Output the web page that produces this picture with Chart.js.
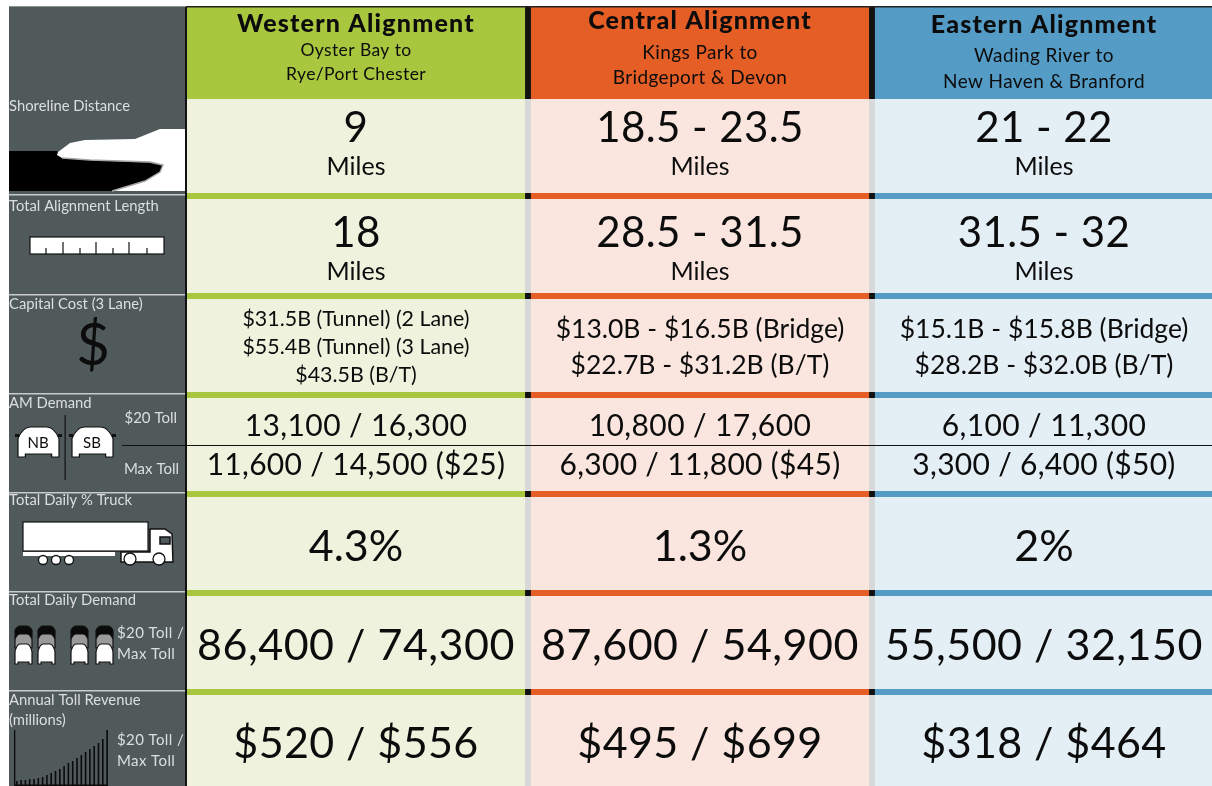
<!DOCTYPE html>
<html>
<head>
<meta charset="utf-8">
<script src="https://cdn.jsdelivr.net/npm/chart.js@4"></script>
<style>
  html, body { margin: 0; padding: 0; background: white; overflow: hidden; width: 1212px; height: 786px; }
  #wrap { width: 1216px; height: 786px; }
</style>
</head>
<body>
<div id="wrap"><canvas id="table_chart"></canvas></div>
<script>
const categories = ['Western Alignment', 'Central Alignment', 'Eastern Alignment'];
const fromPlace = ['Oyster Bay to', 'Kings Park to', 'Wading River to'];
const toPlace = ['Rye/Port Chester', 'Bridgeport & Devon', 'New Haven & Branford'];
const measures = ['Shoreline Distance', 'Total Alignment Length', 'Capital Cost (3 Lane)', 'AM Demand', 'Total Daily % Truck', 'Total Daily Demand', 'Annual Toll Revenue'];
const shoreline = ['9', '18.5 - 23.5', '21 - 22'];
const alignmentLength = ['18', '28.5 - 31.5', '31.5 - 32'];
const capitalCost = [
  ['$31.5B (Tunnel) (2 Lane)', '$55.4B (Tunnel) (3 Lane)', '$43.5B (B/T)'],
  ['$13.0B - $16.5B (Bridge)', '$22.7B - $31.2B (B/T)'],
  ['$15.1B - $15.8B (Bridge)', '$28.2B - $32.0B (B/T)']
];
const amDemand20 = ['13,100 / 16,300', '10,800 / 17,600', '6,100 / 11,300'];
const amDemandMax = ['11,600 / 14,500 ($25)', '6,300 / 11,800 ($45)', '3,300 / 6,400 ($50)'];
const truckShare = ['4.3%', '1.3%', '2%'];
const dailyDemand = ['86,400 / 74,300', '87,600 / 54,900', '55,500 / 32,150'];
const tollRevenue = ['$520 / $556', '$495 / $699', '$318 / $464'];
// heights of the rows in the picture, header first, then cell + rule for each measure
const rowSpans = [92, 94, 6, 94, 6, 93, 6, 93, 6, 93, 6, 93, 6, 91];
const revenueRamp = [5, 6, 6, 7, 7, 8, 9, 11, 13, 15, 17, 20, 23, 25, 28, 31, 34, 37, 40, 43, 47, 56];

const strong = ['#a9c63f', '#e55e26', '#549cc6'];
const tint = ['#eff3de', '#fae6df', '#e3eef5'];
const FONT = 'Lato';

const datasets = rowSpans.map((span, i) => ({
  label: 'row ' + i,
  data: categories.map(() => span),
  backgroundColor: (i === 0 || i % 2 === 0) ? strong : tint,
  stack: 'table',
  barPercentage: 1,
  categoryPercentage: 0.983
}));

function put(ctx, text, x, y, size, opts) {
  opts = opts || {};
  ctx.font = (opts.weight || '400') + ' ' + size + 'px ' + FONT;
  ctx.letterSpacing = (opts.spacing || 0) + 'px';
  ctx.textAlign = opts.align || 'center';
  ctx.textBaseline = 'middle';
  ctx.fillStyle = opts.color || '#0c0c0c';
  ctx.fillText(text, x, y);
  ctx.letterSpacing = '0px';
}

function poly(ctx, pts, fill, stroke) {
  ctx.beginPath();
  pts.forEach((p, i) => i ? ctx.lineTo(p[0], p[1]) : ctx.moveTo(p[0], p[1]));
  ctx.closePath();
  if (fill) { ctx.fillStyle = fill; ctx.fill(); }
  if (stroke) { ctx.strokeStyle = stroke; ctx.lineWidth = 1.5; ctx.stroke(); }
}

function car(ctx, x, y, w, h, fill) {
  ctx.beginPath();
  ctx.moveTo(x, y + h);
  ctx.lineTo(x, y + h * 0.38);
  ctx.quadraticCurveTo(x + w * 0.12, y, x + w * 0.3, y);
  ctx.lineTo(x + w * 0.7, y);
  ctx.quadraticCurveTo(x + w * 0.88, y, x + w, y + h * 0.38);
  ctx.lineTo(x + w, y + h);
  ctx.lineTo(x + w * 0.82, y + h);
  ctx.lineTo(x + w * 0.82, y + h * 0.9);
  ctx.lineTo(x + w * 0.18, y + h * 0.9);
  ctx.lineTo(x + w * 0.18, y + h);
  ctx.closePath();
  ctx.fillStyle = fill;
  ctx.fill();
  ctx.strokeStyle = '#111';
  ctx.lineWidth = 1.2;
  ctx.stroke();
}

function wheel(ctx, x, y, r) {
  ctx.beginPath();
  ctx.arc(x, y, r, 0, Math.PI * 2);
  ctx.fillStyle = 'white';
  ctx.fill();
  ctx.strokeStyle = '#111';
  ctx.lineWidth = 1.3;
  ctx.stroke();
}

const tablePlugin = {
  id: 'tablePlugin',
  beforeDatasetsDraw(chart) {
    const ctx = chart.ctx, xs = chart.scales.x, ys = chart.scales.y;
    // gutters between the alignments, black over header and rules, grey over the cells
    ctx.save();
    ctx.fillStyle = '#d6d9d7';
    ctx.fillRect(xs.left, ys.getPixelForValue(0), xs.right - xs.left, ys.bottom - ys.top);
    let top = 0;
    rowSpans.forEach((span, i) => {
      if (i % 2 === 0) {
        ctx.fillStyle = '#111';
        ctx.fillRect(xs.left, ys.getPixelForValue(top), xs.right - xs.left, ys.getPixelForValue(top + span) - ys.getPixelForValue(top));
      }
      top += span;
    });
    ctx.restore();
  },
  afterDatasetsDraw(chart) {
    const ctx = chart.ctx, xs = chart.scales.x, ys = chart.scales.y;
    const yAt = v => ys.getPixelForValue(v);
    const centers = categories.map((c, i) => xs.getPixelForValue(i));
    // cumulative row tops
    const tops = [];
    rowSpans.reduce((a, s, i) => (tops[i] = a, a + s), 0);
    const rowTop = r => yAt(tops[2 * r + 1]);

    ctx.save();
    // left panel
    const panelL = 9, panelR = xs.left + 2;
    const pTop = yAt(0), pBot = yAt(ys.max);
    ctx.fillStyle = '#505a5a';
    ctx.fillRect(panelL, pTop, panelR - panelL, pBot - pTop);
    ctx.fillStyle = '#8d9393';
    ctx.fillRect(panelL, pTop - 1, panelR - panelL, 1);
    ctx.fillStyle = '#111';
    ctx.fillRect(panelR - 1, pTop, 2, pBot - pTop);
    // dark edge along the top of the headers
    ctx.fillStyle = '#222';
    ctx.fillRect(panelR, pTop - 1, 1212 - panelR, 1.5);

    const labelColor = '#dcdfdf';
    const labelShift = [7, 7, 5, 5, 3, 4, 5];
    measures.forEach((m, r) => {
      if (r > 0) {
        ctx.fillStyle = '#c9cccc';
        ctx.fillRect(panelL, rowTop(r) - 5, panelR - panelL - 1, 1.5);
      }
      put(ctx, m, panelL, rowTop(r) + labelShift[r], 14.8, { align: 'left', color: labelColor });
    });
    put(ctx, '(millions)', panelL, rowTop(6) + 25, 14.8, { align: 'left', color: labelColor });

    // shoreline icon
    poly(ctx, [[panelL, 151], [57, 151], [62, 158], [90, 160], [150, 163], [163, 166], [160, 172], [145, 181], [112, 191], [panelL, 191]], '#000');
    poly(ctx, [[185, 129], [160, 129], [150, 133], [135, 139], [85, 140], [70, 143], [58, 152], [57, 155], [62, 158], [90, 160], [150, 162], [163, 165], [160, 172], [145, 181], [112, 191], [185, 191]], 'white');
    ctx.beginPath();
    [[62, 158], [90, 160], [150, 162], [163, 165], [160, 172], [145, 181], [112, 191]].forEach((p, i) => i ? ctx.lineTo(p[0], p[1]) : ctx.moveTo(p[0], p[1]));
    ctx.strokeStyle = '#a5a5a5';
    ctx.lineWidth = 1.4;
    ctx.stroke();

    // ruler icon
    ctx.fillStyle = 'white';
    ctx.fillRect(30, 237, 134, 17);
    ctx.strokeStyle = '#111';
    ctx.lineWidth = 1.2;
    ctx.strokeRect(30, 237, 134, 17);
    [46, 63, 80, 96, 113, 129, 147].forEach((tx, i) => {
      ctx.beginPath();
      ctx.moveTo(tx, i % 2 ? 242 : 248);
      ctx.lineTo(tx, 254);
      ctx.stroke();
    });

    // dollar icon
    put(ctx, '$', 93, 346, 58);

    // AM demand icon
    car(ctx, 18, 427, 41, 30, 'white');
    car(ctx, 72, 427, 41, 30, 'white');
    ctx.fillStyle = '#111';
    ctx.fillRect(15, 434, 4, 3); ctx.fillRect(58, 434, 4, 3); ctx.fillRect(69, 434, 4, 3); ctx.fillRect(112, 434, 4, 3);
    put(ctx, 'NB', 38, 443, 15);
    put(ctx, 'SB', 92, 443, 15);
    ctx.fillStyle = '#111';
    ctx.fillRect(64.5, 415, 1.2, 65);
    put(ctx, '$20 Toll', 177, 418, 15, { align: 'right', color: labelColor });
    put(ctx, 'Max Toll', 179, 469, 15, { align: 'right', color: labelColor });

    // truck icon
    ctx.fillStyle = 'white';
    ctx.fillRect(23, 522, 125, 29);
    ctx.strokeStyle = '#111';
    ctx.lineWidth = 1.2;
    ctx.strokeRect(23, 522, 125, 29);
    ctx.fillStyle = 'white';
    ctx.fillRect(23, 552, 92, 4);
    poly(ctx, [[150, 529], [165, 529], [172, 534], [173, 562], [121, 562], [121, 552], [150, 552]], 'white', '#111');
    ctx.fillStyle = '#505a5a';
    ctx.fillRect(160, 537, 10, 7);
    ctx.strokeRect(160, 537, 10, 7);
    [43, 56, 69].forEach(wx => wheel(ctx, wx, 560, 4.5));
    [130, 159].forEach(wx => wheel(ctx, wx, 559, 6));

    // daily demand icon
    [15, 38, 71, 96].forEach(cx => {
      car(ctx, cx, 626, 17, 12, '#0a0a0a');
      car(ctx, cx, 634, 17, 14, '#9a9a9a');
      car(ctx, cx, 644, 17, 20, 'white');
    });
    put(ctx, '$20 Toll /', 117, 633, 15, { align: 'left', color: labelColor, spacing: 0.4 });
    put(ctx, 'Max Toll', 117, 654, 15, { align: 'left', color: labelColor, spacing: 0.4 });

    // revenue ramp icon
    ctx.fillStyle = '#0a0a0a';
    ctx.fillRect(14, 730, 1.3, 56);
    revenueRamp.forEach((h, i) => ctx.fillRect(16 + i * 4.3, 786 - h, 1.6, h));
    ctx.fillRect(14, 784.5, 94, 1.5);
    put(ctx, '$20 Toll /', 117, 740, 15, { align: 'left', color: labelColor, spacing: 0.4 });
    put(ctx, 'Max Toll', 117, 761, 15, { align: 'left', color: labelColor, spacing: 0.4 });

    // black rule through AM demand
    ctx.fillStyle = '#111';
    ctx.fillRect(122, 445, 1090, 1);

    // headers and cells
    const titleY = [24, 21, 25];
    const fromY = [50, 53, 56];
    const toY = [74, 78, 82];
    const subSize = [17.5, 19, 19];
    centers.forEach((cx, c) => {
      put(ctx, categories[c], cx, titleY[c], 25, { weight: '900', spacing: 1.2 });
      put(ctx, fromPlace[c], cx, fromY[c], subSize[c], { spacing: 0.4 });
      put(ctx, toPlace[c], cx, toY[c], subSize[c], { spacing: 0.4 });

      put(ctx, shoreline[c], cx, 128, 42, { spacing: 0.4 });
      put(ctx, 'Miles', cx, 167, 25);
      put(ctx, alignmentLength[c], cx, 233, 42, { spacing: 0.4 });
      put(ctx, 'Miles', cx, 272, 25);

      const lines = capitalCost[c];
      const step = lines.length === 3 ? 28 : 36;
      const y0 = lines.length === 3 ? 319 : 329;
      lines.forEach((t, l) => put(ctx, t, cx, y0 + l * step, lines.length === 3 ? 21.4 : 26.5));

      put(ctx, amDemand20[c], cx, 426, 30, { spacing: 0.4 });
      put(ctx, amDemandMax[c], cx, 465, 30, { spacing: 0.3 });
      put(ctx, truckShare[c], cx, 547, 43);
      put(ctx, dailyDemand[c], cx, 646, 43, { spacing: 0.5 });
      put(ctx, tollRevenue[c], cx, 744, 43, { spacing: 0.4 });
    });
    ctx.restore();
  }
};

const table_chart = new Chart(document.getElementById('table_chart'), {
  type: 'bar',
  data: { labels: categories, datasets: datasets },
  options: {
    responsive: true,
    maintainAspectRatio: false,
    animation: false,
    layout: { padding: { left: 184, right: 0, top: 7, bottom: 0 } },
    plugins: { legend: { display: false }, title: { display: false }, tooltip: { enabled: false } },
    scales: {
      x: { display: false, stacked: true },
      y: { display: false, stacked: true, reverse: true, min: 0, max: 779 }
    }
  },
  plugins: [tablePlugin]
});
</script>
</body>
</html>
